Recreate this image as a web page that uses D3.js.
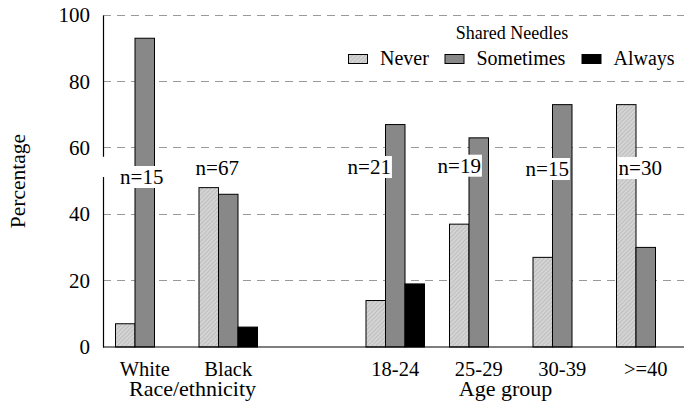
<!DOCTYPE html>
<html><head><meta charset="utf-8">
<script src="https://cdn.jsdelivr.net/npm/d3@7"></script>
<style>
html,body{margin:0;padding:0;background:#fff;}
svg{display:block;}
</style></head>
<body>
<svg id="chart" width="684" height="402"></svg>
<script>
// ---- data ----
const categories = ["White", "Black", "", "18-24", "25-29", "30-39", ">=40"];
const series = ["Never", "Sometimes", "Always"];
const never     = [7, 48, null, 14, 37, 27, 73];
const sometimes = [93, 46, null, 67, 63, 73, 30];
const always    = [0, 6, null, 19, 0, 0, 0];
const nLabels   = ["n=15", "n=67", "", "n=21", "n=19", "n=15", "n=30"];
const nLabelY   = [49.1, 51.8, null, 52.1, 52.5, 51.5, 51.8];     // baseline, in percent units
const nLabelDx  = [-3, -11, 0, -26, -19.5, -15, -5.5];             // offset from group centre (px)
const yTicks    = [0, 20, 40, 60, 80, 100];
const groupTitles = ["Race/ethnicity", "Age group"];
const legendTitle = "Shared Needles";
const yTitle = "Percentage";

(function () {
const FONT = '"Liberation Serif"';
const values = [never, sometimes, always];
const colors = {Never: "url(#hatch)", Sometimes: "#888888", Always: "#000000"};

const svg = d3.select("#chart");
const mLeft = 103, mRight = 687.5, mTop = 15, mBottom = 347;

const x = d3.scaleBand().domain(categories.map((c, i) => i)).range([mLeft, mRight]).paddingInner(0).paddingOuter(0);
const xs = d3.scaleBand().domain(series).range([0, x.bandwidth()]).paddingInner(0).paddingOuter(0.641);
const y = d3.scaleLinear().domain([0, 100]).range([mBottom, mTop]);

// hatch pattern
const defs = svg.append("defs");
const pat = defs.append("pattern").attr("id", "hatch").attr("patternUnits", "userSpaceOnUse")
  .attr("width", 3).attr("height", 3).attr("patternTransform", "rotate(45)");
pat.append("rect").attr("width", 3).attr("height", 3).attr("fill", "#d4d4d4");
pat.append("line").attr("x1", 0).attr("y1", 0).attr("x2", 0).attr("y2", 3)
  .attr("stroke", "#a8a8a8").attr("stroke-width", 1);

// gridlines
svg.append("g").selectAll("line").data(yTicks.filter(t => t > 0)).join("line")
  .attr("x1", mLeft).attr("x2", 684).attr("y1", d => y(d)).attr("y2", d => y(d))
  .attr("stroke", "#9a9a9a").attr("stroke-width", 1).attr("stroke-dasharray", "8,6")
  .attr("shape-rendering", "crispEdges");

// bars
const rows = [];
categories.forEach((c, i) => {
  series.forEach((s, k) => {
    const v = values[k][i];
    if (v !== null) rows.push({i, s, v});
  });
});
svg.append("g").selectAll("rect").data(rows).join("rect")
  .attr("x", d => x(d.i) + xs(d.s))
  .attr("width", xs.bandwidth())
  .attr("y", d => y(d.v))
  .attr("height", d => y(0) - y(d.v))
  .attr("fill", d => colors[d.s])
  .attr("stroke", "#000").attr("stroke-width", 1);

// y axis
const yAxis = d3.axisLeft(y).tickValues(yTicks).tickSize(0).tickPadding(13);
const gy = svg.append("g").attr("transform", `translate(${mLeft},0)`).call(yAxis)
  .attr("font-family", null).attr("font-size", null);
gy.select(".domain").attr("stroke", "#000").attr("stroke-width", 1.2);
gy.selectAll("text").style("font-family", FONT).style("font-size", "21px").attr("fill", "#000");

// x axis
const xAxis = d3.axisBottom(x).tickFormat(i => categories[i]).tickSize(0).tickPadding(14);
const gx = svg.append("g").attr("transform", `translate(0,${mBottom})`).call(xAxis)
  .attr("font-family", null).attr("font-size", null);
gx.select(".domain").attr("stroke", "#000").attr("stroke-width", 1.2).attr("d", `M${mLeft},0H684`);
gx.selectAll("text").style("font-family", FONT).style("font-size", "20.5px").attr("fill", "#000");

// small white gap in y axis (as in reference)
svg.append("rect").attr("x", mLeft - 2).attr("width", 4)
  .attr("y", y(57.3)).attr("height", y(51.2) - y(57.3)).attr("fill", "#fff");

// n labels with white backgrounds
const lab = svg.append("g");
categories.forEach((c, i) => {
  if (!nLabels[i]) return;
  const cx = x(i) + x.bandwidth() / 2 + nLabelDx[i];
  const g = lab.append("g");
  const r = g.append("rect").attr("fill", "#fff");
  const t = g.append("text").attr("x", cx).attr("y", y(nLabelY[i]))
    .attr("text-anchor", "middle").style("font-family", FONT).style("font-size", "21px").text(nLabels[i]);
  const bb = t.node().getBBox();
  r.attr("x", bb.x - 1).attr("y", bb.y + 1).attr("width", bb.width + 2).attr("height", bb.height - 2);
});

// group titles
const titlePos = [[0, 1], [3, 6]];
svg.append("g").selectAll("text").data(groupTitles).join("text")
  .attr("x", (d, j) => (x(titlePos[j][0]) + x(titlePos[j][1]) + x.bandwidth()) / 2 + (j === 0 ? 6 : -15))
  .attr("y", 395.5)
  .attr("text-anchor", "middle").style("font-family", FONT).style("font-size", "22px").text(d => d);

// y title
svg.append("text").attr("transform", `translate(25,${(mTop + mBottom) / 2}) rotate(-90)`)
  .attr("text-anchor", "middle").style("font-family", FONT).style("font-size", "21.5px").text(yTitle);

// legend
const leg = svg.append("g");
leg.append("text").attr("x", 512).attr("y", 39).attr("text-anchor", "middle")
  .style("font-family", FONT).style("font-size", "18px").text(legendTitle);
const legX = [348.5, 445, 582];
series.forEach((s, k) => {
  leg.append("rect").attr("x", legX[k]).attr("y", 54.5).attr("width", 19).attr("height", 9)
    .attr("fill", colors[s]).attr("stroke", "#000").attr("stroke-width", 1);
  leg.append("text").attr("x", legX[k] + 31.5).attr("y", 65)
    .style("font-family", FONT).style("font-size", "20px").text(s);
});
})();
</script>
</body></html>
